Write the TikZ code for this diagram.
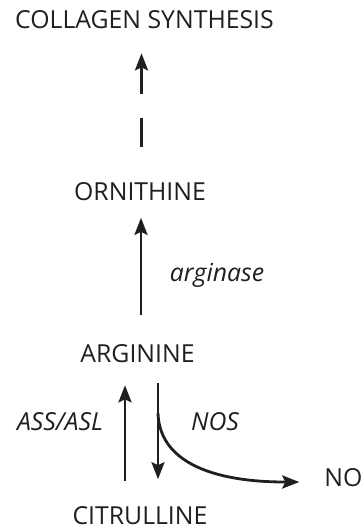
\documentclass[tikz,border=0pt]{standalone}
\usepackage{fontspec}
\setmainfont{Open Sans}
\usetikzlibrary{arrows.meta}

\begin{document}
\begin{tikzpicture}[x=1pt,y=-1pt,
    txt/.style={inner sep=0pt,text=black!88,font=\fontsize{24.8}{29}\selectfont},
    enz/.style={txt,font=\fontsize{24.8}{29}\selectfont\itshape},
    arr/.style={line width=2.8pt,draw=black!88,-{Stealth[length=17pt,width=13pt,inset=3pt]}}]
    \useasboundingbox (0,0) rectangle (363,525);

    \node[txt] (col) at (144.5,20) {COLLAGEN SYNTHESIS};
    \node[txt] (orn) at (140,191.5) {ORNITHINE};
    \node[txt] (arg) at (137.5,354) {ARGININE};
    \node[txt] (cit) at (140,515.5) {CITRULLINE};
    \node[txt] (no) at (343.5,478) {NO};

    \node[enz] (argase) at (217,275) {arginase};
    \node[enz] (ass) at (60,422) {ASS/ASL};
    \node[enz] (nos) at (215,422) {NOS};

    % ornithine to collagen, broken line
    \draw[arr,dash pattern=on 29pt off 24pt on 300pt,shorten <=35pt,shorten >=24pt]
        ([xshift=1.5pt]orn.north) -- ([xshift=1.5pt]col.south -| orn.north);
    \draw[arr,shorten <=30pt,shorten >=17pt]
        ([xshift=1pt]arg.north -| orn.south) -- ([xshift=1pt]orn.south);

    \draw[arr,shorten <=25pt,shorten >=22pt]
        ([xshift=-12.5pt]cit.north -| arg.south) -- ([xshift=-12.5pt]arg.south);
    \draw[arr,shorten <=20pt,shorten >=27pt]
        ([xshift=20.5pt]arg.south) -- ([xshift=20.5pt]cit.north -| arg.south);

    \coordinate (branch) at ([xshift=20.5pt,yshift=-50pt]arg.south);
    \draw[arr,shorten >=25pt] (branch) to[out=-88,in=180,looseness=0.95] ([yshift=-4pt]no.west);
\end{tikzpicture}
\end{document}
